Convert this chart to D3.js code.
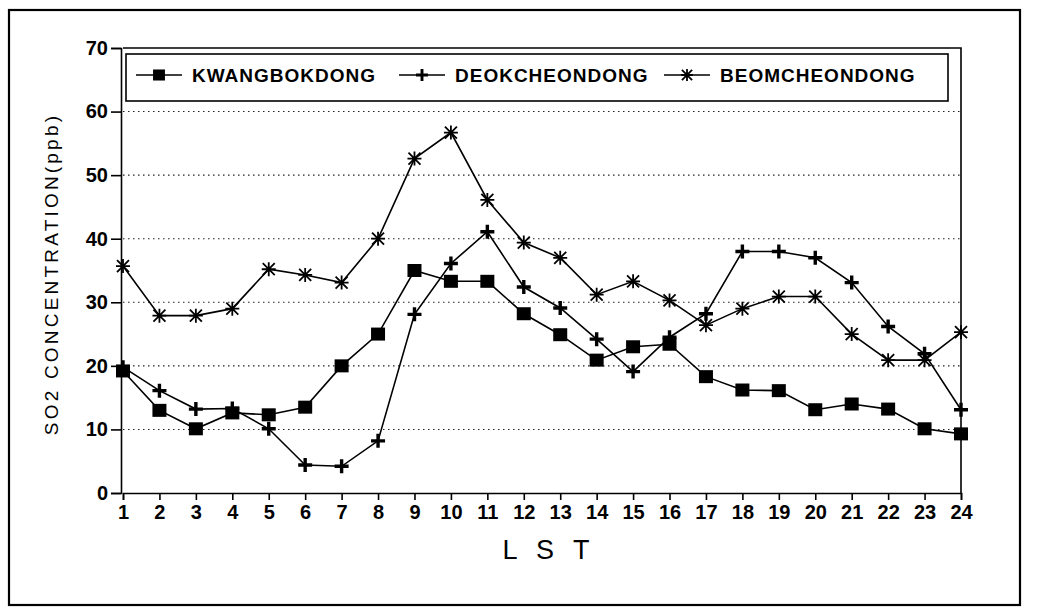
<!DOCTYPE html>
<html>
<head>
<meta charset="utf-8">
<script src="https://cdn.jsdelivr.net/npm/d3@7"></script>
<style>
  body { margin: 0; background: #fff; }
  svg { display: block; font-family: "Liberation Sans", Arial, sans-serif; }
  .grid line { stroke: #222; stroke-width: 1.1; stroke-dasharray: 1.5,3.5; }
  .axis path, .axis line { stroke: #000; stroke-width: 1.6; }
  .axis text { font-size: 20px; font-weight: bold; fill: #000; }
</style>
</head>
<body>
<svg id="chart" width="1037" height="609"></svg>
<script>
// hours (LST)
const hours = d3.range(1, 25);
const yTicks = [0, 10, 20, 30, 40, 50, 60, 70];

// SO2 concentration (ppb) per station
const kwangbokdong = [19.2, 13.0, 10.1, 12.6, 12.3, 13.5, 20.0, 25.0, 35.0, 33.3, 33.3, 28.2,
  24.9, 20.9, 23.0, 23.4, 18.3, 16.2, 16.1, 13.1, 14.0, 13.2, 10.1, 9.3];
const deokcheondong = [19.8, 16.1, 13.2, 13.3, 10.1, 4.4, 4.2, 8.2, 28.1, 36.1, 41.1, 32.4,
  29.1, 24.2, 19.1, 24.5, 28.2, 38.0, 38.0, 37.0, 33.1, 26.2, 21.9, 13.1];
const beomcheondong = [35.7, 27.9, 27.9, 29.0, 35.2, 34.3, 33.1, 40.0, 52.6, 56.7, 46.1, 39.4,
  37.0, 31.2, 33.3, 30.3, 26.4, 29.0, 30.9, 30.9, 25.0, 20.9, 20.9, 25.3];

const seriesNames = ["KWANGBOKDONG", "DEOKCHEONDONG", "BEOMCHEONDONG"];
const markerTypes = ["square", "plus", "star"];

const svg = d3.select("#chart");

// 外框
svg.append("rect")
  .attr("x", 9).attr("y", 10)
  .attr("width", 1011).attr("height", 595)
  .attr("fill", "none").attr("stroke", "#000").attr("stroke-width", 2.2);

const x = d3.scaleLinear().domain([1, 24]).range([123, 961]);
const y = d3.scaleLinear().domain([0, 70]).range([493, 48]);

// 网格线
svg.append("g").attr("class", "grid")
  .selectAll("line")
  .data(yTicks.filter(d => d > 0 && d < 70))
  .join("line")
  .attr("x1", x(1)).attr("x2", x(24))
  .attr("y1", d => y(d)).attr("y2", d => y(d));

// plot frame (top + right)
svg.append("path")
  .attr("d", `M${x(1)},${y(70)}H${x(24)}V${y(0)}`)
  .attr("fill", "none").attr("stroke", "#000").attr("stroke-width", 1.6);

// axes
svg.append("g").attr("class", "axis")
  .attr("transform", `translate(0,${y(0)})`)
  .call(d3.axisBottom(x).tickValues(hours).tickFormat(d3.format("d")).tickSize(7).tickPadding(5));

svg.append("g").attr("class", "axis")
  .attr("transform", `translate(${x(1) - 2},0)`)
  .call(d3.axisLeft(y).tickValues(yTicks).tickSize(10).tickPadding(3));

// 轴标题
svg.append("text")
  .attr("transform", "translate(58,274) rotate(-90)")
  .attr("text-anchor", "middle")
  .attr("font-size", 19)
  .attr("letter-spacing", 3.2)
  .text("SO2  CONCENTRATION(ppb)");

svg.append("text")
  .attr("x", 549).attr("y", 559)
  .attr("text-anchor", "middle")
  .attr("font-size", 27)
  .attr("letter-spacing", 6)
  .text("L S T");

// 标记
function drawMarker(g, type, cx, cy, s = 1) {
  if (type === "square") {
    g.append("rect")
      .attr("x", cx - 7 * s).attr("y", cy - 6.5 * s)
      .attr("width", 14 * s).attr("height", 13 * s)
      .attr("fill", "#000");
  } else if (type === "plus") {
    g.append("path")
      .attr("d", `M${cx - 7 * s},${cy}H${cx + 7 * s}M${cx},${cy - 7 * s}V${cy + 7 * s}`)
      .attr("stroke", "#000").attr("stroke-width", 3.4 * s);
  } else {
    const r = 7 * s, q = 6 * s;
    g.append("path")
      .attr("d", `M${cx - r},${cy}H${cx + r}M${cx},${cy - r}V${cy + r}` +
        `M${cx - q},${cy - q}L${cx + q},${cy + q}M${cx - q},${cy + q}L${cx + q},${cy - q}`)
      .attr("stroke", "#000").attr("stroke-width", 1.8);
  }
}

const line = d3.line()
  .x((d, i) => x(hours[i]))
  .y(d => y(d));

[kwangbokdong, deokcheondong, beomcheondong].forEach((vals, k) => {
  svg.append("path")
    .datum(vals)
    .attr("d", line)
    .attr("fill", "none")
    .attr("stroke", "#000")
    .attr("stroke-width", 1.6);
  const g = svg.append("g");
  vals.forEach((v, i) => drawMarker(g, markerTypes[k], x(hours[i]), y(v)));
});

// 图例
const legend = svg.append("g");
legend.append("rect")
  .attr("x", 126).attr("y", 54)
  .attr("width", 822).attr("height", 47)
  .attr("fill", "#fff").attr("stroke", "#000").attr("stroke-width", 1.6);

const legendX = [136, 399, 664];
seriesNames.forEach((name, k) => {
  const lx = legendX[k];
  legend.append("line")
    .attr("x1", lx).attr("x2", lx + 46)
    .attr("y1", 75).attr("y2", 75)
    .attr("stroke", "#000").attr("stroke-width", 1.6);
  drawMarker(legend, markerTypes[k], lx + 23, 75, 0.85);
  legend.append("text")
    .attr("x", lx + 56).attr("y", 82)
    .attr("font-size", 19)
    .attr("font-weight", "bold")
    .attr("letter-spacing", 1)
    .text(name);
});
</script>
</body>
</html>
